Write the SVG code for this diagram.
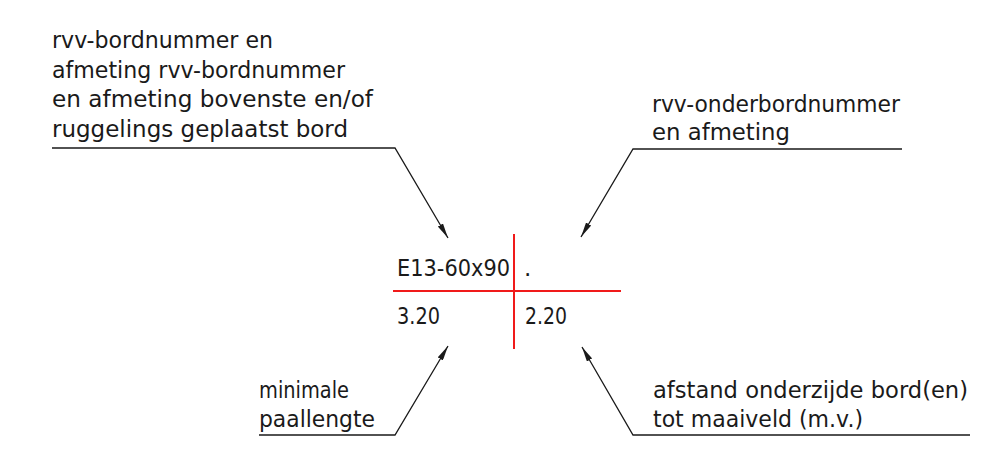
<svg xmlns="http://www.w3.org/2000/svg" width="1003" height="451" viewBox="0 0 1003 451">
  <style>
    text { font-family: "DejaVu Sans", "Liberation Sans", sans-serif; font-size: 23px; fill: #1a1a1a; }
    .leader { fill: none; stroke: #1a1a1a; stroke-width: 1.3; }
    .red { stroke: #f01a1a; stroke-width: 2; }
  </style>
  <defs>
    <marker id="arrow" viewBox="0 0 15 6" refX="15" refY="3" markerWidth="15" markerHeight="6" orient="auto" markerUnits="userSpaceOnUse">
      <path d="M0,0 L15,3 L0,6 z" fill="#1a1a1a"/>
    </marker>
  </defs>
  <rect width="1003" height="451" fill="#ffffff"/>

  <g id="connectors">
    <polyline class="leader" points="52,148 395,148 448,238" marker-end="url(#arrow)"/>
    <polyline class="leader" points="902,149 633,149 581,237" marker-end="url(#arrow)"/>
    <polyline class="leader" points="259,435 395,435 448,346" marker-end="url(#arrow)"/>
    <polyline class="leader" points="970,435 633,435 582,347" marker-end="url(#arrow)"/>
  </g>

  <g id="label-top-left">
    <text x="52" y="48" textLength="221" lengthAdjust="spacingAndGlyphs">rvv-bordnummer en</text>
    <text x="52" y="77.5" textLength="293" lengthAdjust="spacingAndGlyphs">afmeting rvv-bordnummer</text>
    <text x="52" y="107" textLength="321" lengthAdjust="spacingAndGlyphs">en afmeting bovenste en/of</text>
    <text x="52" y="136.5" textLength="296" lengthAdjust="spacingAndGlyphs">ruggelings geplaatst bord</text>
  </g>

  <g id="label-top-right">
    <text x="652" y="112" textLength="248" lengthAdjust="spacingAndGlyphs">rvv-onderbordnummer</text>
    <text x="652" y="139.5" textLength="138" lengthAdjust="spacingAndGlyphs">en afmeting</text>
  </g>

  <g id="center-cross">
    <line class="red" x1="514" y1="234" x2="514" y2="349"/>
    <line class="red" x1="393" y1="291" x2="621" y2="291"/>
    <text x="397" y="276" textLength="113" lengthAdjust="spacingAndGlyphs">E13-60x90</text>
    <text x="524" y="276">.</text>
    <text x="397" y="324" textLength="43" lengthAdjust="spacingAndGlyphs">3.20</text>
    <text x="525" y="324" textLength="42" lengthAdjust="spacingAndGlyphs">2.20</text>
  </g>

  <g id="label-bottom-left">
    <text x="259" y="398" textLength="90" lengthAdjust="spacingAndGlyphs">minimale</text>
    <text x="259" y="426.5" textLength="116" lengthAdjust="spacingAndGlyphs">paallengte</text>
  </g>

  <g id="label-bottom-right">
    <text x="653" y="398" textLength="315" lengthAdjust="spacingAndGlyphs">afstand onderzijde bord(en)</text>
    <text x="653" y="426.5" textLength="210" lengthAdjust="spacingAndGlyphs">tot maaiveld (m.v.)</text>
  </g>
</svg>
